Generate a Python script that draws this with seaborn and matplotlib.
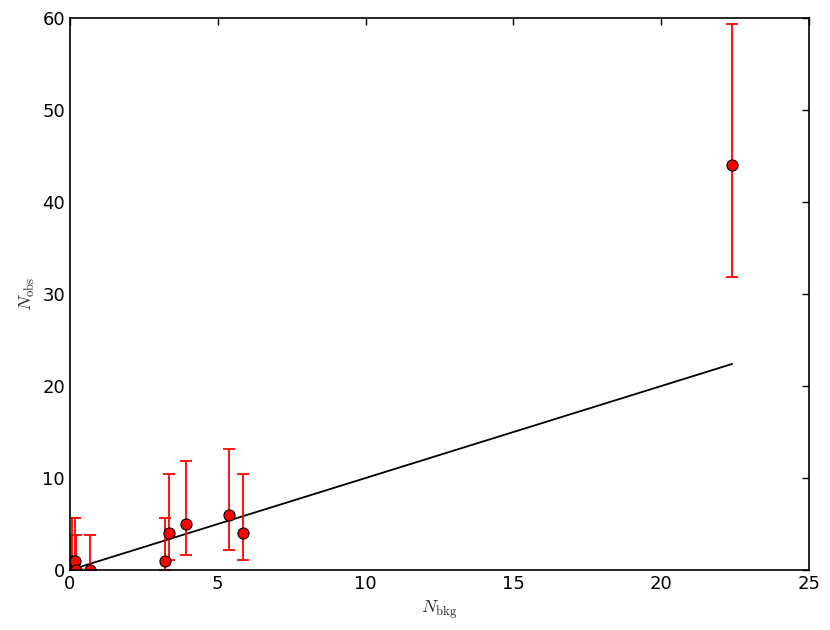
import matplotlib
matplotlib.use('Agg')
import matplotlib.pyplot as plt
import seaborn as sns
import numpy as np
import pandas as pd

# valores
n_bkg = [0.02, 0.08, 0.17, 0.22, 0.68, 3.20, 3.35, 3.92, 5.38, 5.85, 22.40]
n_obs = [0, 1, 1, 0, 0, 1, 4, 5, 6, 4, 44]
obs_low = [0.0, 0.0, 0.0, 0.0, 0.0, 0.0, 1.1, 1.6, 2.2, 1.1, 31.8]
obs_high = [3.8, 5.7, 5.7, 3.8, 3.8, 5.7, 10.4, 11.8, 13.2, 10.4, 59.4]

df = pd.DataFrame({'bkg': n_bkg, 'obs': n_obs, 'lo': obs_low, 'hi': obs_high})

sns.set_style('white')
plt.rcParams['font.family'] = ['DejaVu Sans']
plt.rcParams['mathtext.fontset'] = 'cm'
plt.rcParams['xtick.direction'] = 'in'
plt.rcParams['ytick.direction'] = 'in'

fig = plt.figure(figsize=(8.3, 6.3), dpi=100)
ax = fig.add_axes([0.0843, 0.0952, 0.8904, 0.8762])

# linha N_obs = N_bkg
sns.lineplot(x=df['bkg'], y=df['bkg'], color='black', linewidth=1.3, ax=ax)

yerr = np.array([df['obs'] - df['lo'], df['hi'] - df['obs']])
ax.errorbar(df['bkg'], df['obs'], yerr=yerr, fmt='none', ecolor='red',
            elinewidth=1.3, capsize=4, capthick=1.3, zorder=3)
sc = sns.scatterplot(data=df, x='bkg', y='obs', color='red', edgecolor='black',
                     linewidth=0.8, s=64, zorder=4, ax=ax)
for coll in ax.collections:
    coll.set_clip_on(True)
    coll.set_clip_path(ax.patch)

ax.set_xlim(0, 25)
ax.set_ylim(0, 60)
ax.set_xticks([0, 5, 10, 15, 20, 25])
ax.set_yticks([0, 10, 20, 30, 40, 50, 60])
ax.tick_params(axis='both', which='major', direction='in', length=5, width=1,
               top=True, right=True, labelsize=13, colors='black')
for sp in ax.spines.values():
    sp.set_color('black')
    sp.set_linewidth(1.2)
    sp.set_zorder(5)

ax.set_xlabel(r'$N_{\mathrm{bkg}}$', fontsize=13)
ax.set_ylabel(r'$N_{\mathrm{obs}}$', fontsize=13)

fig.savefig('out.png', dpi=100)
